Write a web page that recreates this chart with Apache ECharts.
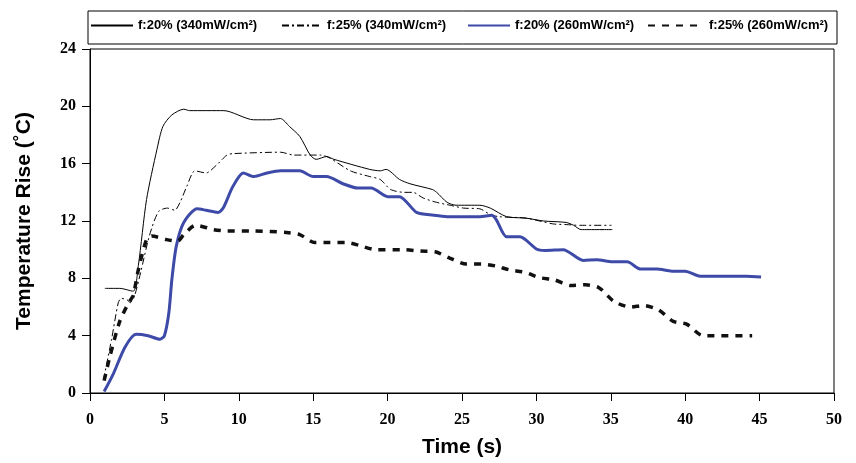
<html>
<head>
<meta charset="utf-8">
<script src="https://cdn.jsdelivr.net/npm/echarts@6/dist/echarts.min.js"></script>
<style>
  body { margin: 0; background: #fff; }
  #main { width: 856px; height: 463px; }
</style>
</head>
<body>
<div id="main"></div>
<script type="text/javascript">
// series names (legend)
var names = ['f:20% (340mW/cm\u00B2)', 'f:25% (340mW/cm\u00B2)', 'f:20% (260mW/cm\u00B2)', 'f:25% (260mW/cm\u00B2)'];

// f:20% 340mW/cm2 - thin solid
var t1 = [1.0, 2.0, 2.9, 3.25, 3.8, 4.5, 4.9, 5.5, 6.3, 6.7, 9.0, 11.0, 12.1, 12.8, 13.4, 14.1, 14.8, 15.2, 15.9, 16.4, 18.8, 19.5, 19.9, 20.8, 21.5, 23.0, 23.3, 24.0, 24.6, 26.2, 26.9, 28.0, 29.3, 30.5, 32.0, 32.5, 33.0, 35.1];
var v1 = [7.3, 7.3, 7.1, 8.9, 13.5, 17.0, 18.6, 19.4, 19.8, 19.7, 19.7, 19.06, 19.06, 19.15, 18.6, 17.9, 16.6, 16.3, 16.5, 16.3, 15.6, 15.5, 15.6, 14.9, 14.6, 14.2, 14.0, 13.3, 13.1, 13.1, 12.9, 12.3, 12.2, 12.0, 11.9, 11.7, 11.4, 11.4];

// f:25% 340mW/cm2 - dash dot
var t2 = [0.9, 1.45, 1.9, 2.1, 2.5, 2.7, 3.0, 3.4, 4.0, 4.6, 5.2, 5.7, 6.05, 6.5, 7.05, 7.8, 8.5, 9.2, 9.6, 12.8, 13.7, 15.5, 16.1, 17.5, 18.8, 19.5, 20.2, 21.1, 21.7, 22.4, 23.3, 24.2, 25.1, 26.2, 26.9, 27.5, 29.3, 31.1, 32.0, 32.9, 35.05];
var v2 = [0.9, 3.75, 6.3, 6.6, 6.5, 6.3, 6.8, 8.4, 11.0, 12.65, 12.9, 12.75, 13.3, 14.4, 15.5, 15.35, 15.9, 16.6, 16.7, 16.8, 16.6, 16.6, 16.4, 15.5, 15.1, 14.9, 14.2, 14.0, 14.0, 13.6, 13.3, 13.1, 12.9, 12.85, 12.45, 12.3, 12.2, 11.8, 11.75, 11.7, 11.7];

// f:20% 260mW/cm2 - thick blue
var t3 = [0.95, 1.55, 2.35, 3.1, 3.9, 4.7, 5.0, 5.3, 5.5, 5.8, 6.3, 7.2, 7.8, 8.6, 8.95, 9.6, 10.3, 11.0, 11.9, 12.8, 14.1, 15.0, 15.9, 17.0, 18.0, 18.9, 20.0, 20.8, 21.95, 23.1, 24.0, 26.2, 27.0, 27.3, 28.0, 28.9, 30.0, 30.6, 31.8, 33.15, 34.05, 35.1, 36.1, 37.0, 38.1, 39.1, 40.0, 41.0, 44.1, 45.1];
var v3 = [0.1, 1.3, 3.2, 4.1, 4.0, 3.75, 4.0, 5.6, 7.9, 10.25, 11.9, 12.85, 12.75, 12.6, 12.9, 14.4, 15.35, 15.1, 15.35, 15.5, 15.5, 15.1, 15.1, 14.6, 14.3, 14.3, 13.7, 13.7, 12.6, 12.4, 12.3, 12.3, 12.4, 12.1, 10.9, 10.9, 10.05, 9.95, 10.0, 9.25, 9.3, 9.15, 9.15, 8.65, 8.65, 8.5, 8.5, 8.15, 8.15, 8.1];

// f:25% 260mW/cm2 - thick dashed
var t4 = [0.95, 1.35, 2.0, 2.6, 2.9, 3.25, 3.8, 4.15, 5.15, 5.9, 6.3, 7.1, 8.3, 9.2, 11.0, 13.2, 14.1, 15.1, 16.1, 17.25, 18.1, 19.2, 21.05, 22.2, 23.2, 24.1, 25.3, 26.3, 27.3, 28.15, 29.3, 30.2, 31.2, 32.3, 33.3, 34.2, 35.2, 36.3, 37.2, 38.2, 39.2, 40.1, 41.2, 42.2, 44.5];
var v4 = [0.86, 2.6, 5.0, 6.3, 6.8, 8.6, 10.7, 10.95, 10.7, 10.6, 11.05, 11.7, 11.4, 11.3, 11.3, 11.2, 11.05, 10.5, 10.5, 10.5, 10.3, 10.0, 10.0, 9.9, 9.85, 9.45, 9.0, 9.0, 8.85, 8.6, 8.4, 8.05, 7.9, 7.5, 7.55, 7.35, 6.4, 6.0, 6.1, 5.8, 5.0, 4.8, 4.0, 4.0, 4.0];

function zip(xs, ys) {
    var out = [];
    for (var i = 0; i < xs.length; i++) out.push([xs[i], ys[i]]);
    return out;
}

var myChart = echarts.init(document.getElementById('main'));

var legendText = { fontFamily: '"Liberation Sans Narrow", "Liberation Sans", Arial', fontWeight: 'bold', fontSize: 13, color: '#000' };
function oneLegend(name, left, w) {
    return {
        data: [name], left: left, top: 19, itemWidth: w, itemHeight: 14, padding: 0,
        textStyle: legendText, selectedMode: false,
        itemStyle: { opacity: 0 }   // hide the symbol, keep the line sample
    };
}

myChart.setOption({
    animation: false,
    grid: { left: 90, right: 22, top: 49, bottom: 69, show: true, borderColor: '#000', borderWidth: 1 },
    graphic: [{
        type: 'rect', shape: { x: 88, y: 11, width: 749, height: 33 },
        style: { fill: 'none', stroke: '#000', lineWidth: 1 }
    }],
    legend: [
        oneLegend(names[0], 90, 42),
        oneLegend(names[1], 281, 40),
        oneLegend(names[2], 467, 42),
        oneLegend(names[3], 647, 56)
    ],
    xAxis: {
        type: 'value', min: 0, max: 50, interval: 5,
        name: 'Time (s)', nameLocation: 'middle', nameGap: 44,
        nameTextStyle: { fontFamily: '"Liberation Sans", Arial', fontWeight: 'bold', fontSize: 21, color: '#000' },
        axisLine: { lineStyle: { color: '#000', width: 1 } },
        axisTick: { inside: false, length: 8, lineStyle: { color: '#000' } },
        axisLabel: { margin: 19, fontFamily: '"Liberation Serif", "Times New Roman", serif', fontWeight: 'bold', fontSize: 16, color: '#000' },
        splitLine: { show: false }
    },
    yAxis: {
        type: 'value', min: 0, max: 24, interval: 4,
        name: 'Temperature Rise (\u02DAC)', nameLocation: 'middle', nameGap: 55,
        nameTextStyle: { fontFamily: '"Liberation Sans", Arial', fontWeight: 'bold', fontSize: 21, color: '#000' },
        axisLine: { show: true, lineStyle: { color: '#000', width: 1 } },
        axisTick: { show: true, inside: false, length: 8, lineStyle: { color: '#000' } },
        axisLabel: { margin: 14, fontFamily: '"Liberation Serif", "Times New Roman", serif', fontWeight: 'bold', fontSize: 16, color: '#000' },
        splitLine: { show: false }
    },
    series: [
        {
            name: names[0], type: 'line', data: zip(t1, v1), symbol: 'none', smooth: 0.25,
            color: '#000', lineStyle: { color: '#000', width: 1, type: 'solid' }
        },
        {
            name: names[1], type: 'line', data: zip(t2, v2), symbol: 'none', smooth: 0.25,
            color: '#000', lineStyle: { color: '#000', width: 1, type: [7, 3, 2, 3] }
        },
        {
            name: names[2], type: 'line', data: zip(t3, v3), symbol: 'none', smooth: 0.25,
            color: '#3d4aa8', lineStyle: { color: '#3d4aa8', width: 3, type: 'solid' }
        },
        {
            name: names[3], type: 'line', data: zip(t4, v4), symbol: 'none', smooth: 0.25,
            color: '#111', lineStyle: { color: '#111', width: 3.5, type: [7, 7] }
        }
    ]
});
</script>
</body>
</html>
